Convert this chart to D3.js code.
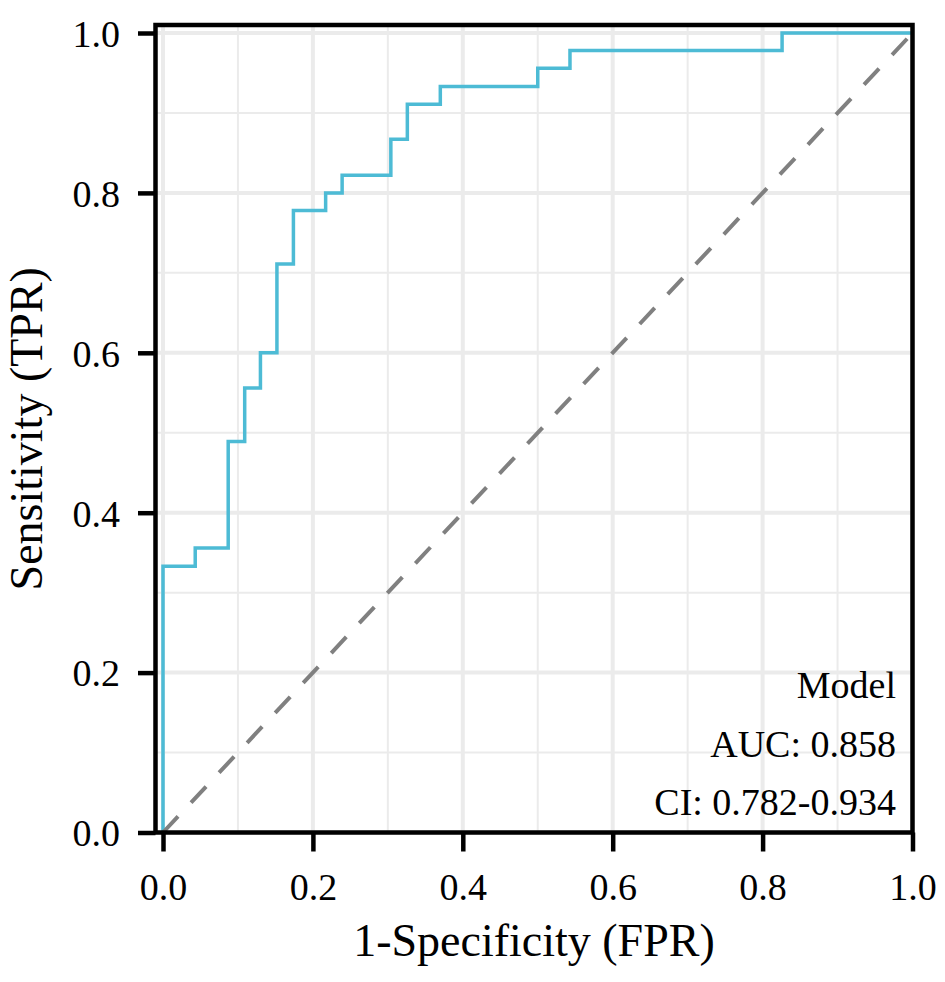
<!DOCTYPE html>
<html>
<head>
<meta charset="utf-8">
<script src="https://cdn.jsdelivr.net/npm/d3@7"></script>
<style>
  body { margin: 0; background: #fff; }
  text { font-family: 'Liberation Serif', 'Times New Roman', serif; fill: #000; }
</style>
</head>
<body>
<svg id="chart" width="945" height="982"></svg>
<script>
// ROC corner points
const fpr = [0, 0, 0.043, 0.087, 0.109, 0.130, 0.152, 0.174, 0.217, 0.239, 0.304, 0.326, 0.370, 0.500, 0.543, 0.826, 1.0]
const tpr = [0, 0.333, 0.356, 0.489, 0.556, 0.600, 0.711, 0.778, 0.800, 0.822, 0.867, 0.911, 0.933, 0.956, 0.978, 1.0, 1.0]
const majorTicks = [0, 0.2, 0.4, 0.6, 0.8, 1.0]
const minorTicks = [0.1, 0.3, 0.5, 0.7, 0.9]
const refLine = [0, 1]
const labels = ['Model', 'AUC: 0.858', 'CI: 0.782-0.934']

const LINE_COLOR = '#4DBBD5'
const GRID_COLOR = '#ebebeb'

const svg = d3.select('#chart')

// panel edges (a little padding left and top, as in the original)
const panel = { left: 155.5, right: 912.5, top: 25, bottom: 832.5 }

const x = d3.scaleLinear().domain([0, 1]).range([163, 912.5])
const y = d3.scaleLinear().domain([0, 1]).range([832.5, 33])

const grid = svg.append('g').attr('class', 'grid')

function drawGrid(values, width) {
  grid.selectAll(null)
    .data(values)
    .enter()
    .append('line')
    .attr('x1', d => x(d))
    .attr('x2', d => x(d))
    .attr('y1', panel.top)
    .attr('y2', panel.bottom)
    .attr('stroke', GRID_COLOR)
    .attr('stroke-width', width)
  grid.selectAll(null)
    .data(values)
    .enter()
    .append('line')
    .attr('x1', panel.left)
    .attr('x2', panel.right)
    .attr('y1', d => y(d))
    .attr('y2', d => y(d))
    .attr('stroke', GRID_COLOR)
    .attr('stroke-width', width)
}
drawGrid(minorTicks, 2)
drawGrid(majorTicks, 4)

const points = fpr.map((f, i) => [f, tpr[i]])

svg.append('path')
  .datum(points)
  .attr('fill', 'none')
  .attr('stroke', LINE_COLOR)
  .attr('stroke-width', 3.5)
  .attr('d', d3.line().x(d => x(d[0])).y(d => y(d[1])).curve(d3.curveStepAfter))

// chance line
svg.append('line')
  .attr('x1', x(refLine[0]))
  .attr('y1', y(refLine[0]))
  .attr('x2', x(refLine[1]))
  .attr('y2', y(refLine[1]))
  .attr('stroke', '#808080')
  .attr('stroke-width', 4)
  .attr('stroke-dasharray', '22,19')

// panel border
svg.append('rect')
  .attr('x', panel.left)
  .attr('y', panel.top)
  .attr('width', panel.right - panel.left)
  .attr('height', panel.bottom - panel.top)
  .attr('fill', 'none')
  .attr('stroke', '#000')
  .attr('stroke-width', 4.5)

const fmt = d3.format('.1f')

const xAxis = svg.append('g')
  .attr('transform', 'translate(0,' + panel.bottom + ')')
  .call(d3.axisBottom(x).tickValues(majorTicks).tickFormat(fmt).tickSize(19))
xAxis.select('.domain').remove()
xAxis.selectAll('.tick line').attr('stroke', '#000').attr('stroke-width', 4.5)
xAxis.selectAll('.tick text')
  .attr('y', 67.5)
  .attr('dy', null)
  .attr('font-size', 38)
  .attr('font-family', "'Liberation Serif', 'Times New Roman', serif")
  .attr('fill', '#000')

const yAxis = svg.append('g')
  .attr('transform', 'translate(' + panel.left + ',0)')
  .call(d3.axisLeft(y).tickValues(majorTicks).tickFormat(fmt).tickSize(17.5))
yAxis.select('.domain').remove()
yAxis.selectAll('.tick line').attr('stroke', '#000').attr('stroke-width', 4.5)
yAxis.selectAll('.tick text')
  .attr('x', -35.5)
  .attr('dy', '0.35em')
  .attr('font-size', 38)
  .attr('font-family', "'Liberation Serif', 'Times New Roman', serif")
  .attr('fill', '#000')

// axis titles
svg.append('text')
  .attr('x', (panel.left + panel.right) / 2)
  .attr('y', 956)
  .attr('text-anchor', 'middle')
  .attr('font-size', 46)
  .text('1-Specificity (FPR)')

svg.append('text')
  .attr('transform', 'translate(42,' + (panel.top + panel.bottom) / 2 + ') rotate(-90)')
  .attr('text-anchor', 'middle')
  .attr('font-size', 46)
  .text('Sensitivity (TPR)')

// model label
svg.append('g')
  .selectAll('text')
  .data(labels)
  .enter()
  .append('text')
  .attr('x', 896)
  .attr('y', (d, i) => 698 + i * 58.5)
  .attr('text-anchor', 'end')
  .attr('font-size', 38)
  .text(d => d)
</script>
</body>
</html>
